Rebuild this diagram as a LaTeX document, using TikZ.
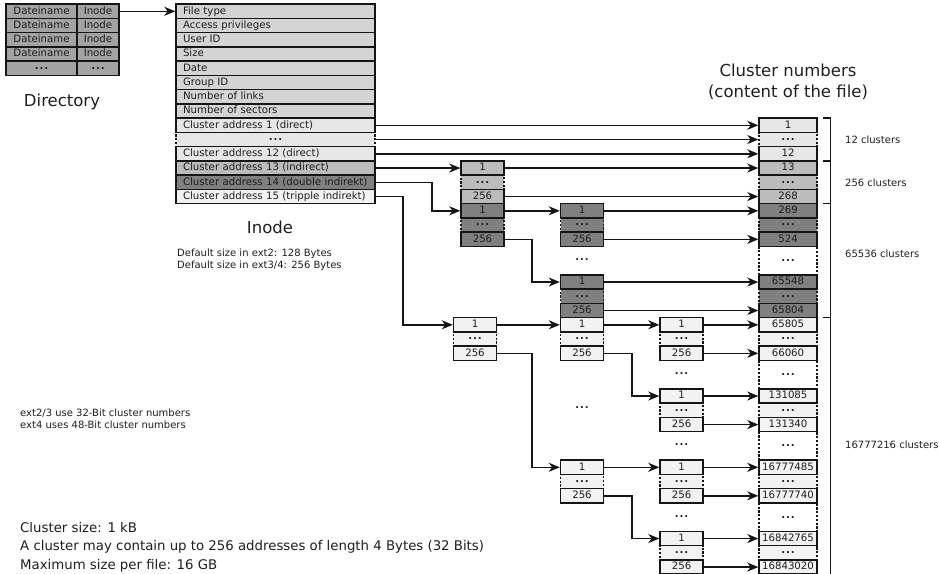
\documentclass[tikz,border=0pt]{standalone}
\usepackage{fontspec}
\setmainfont{DejaVu Sans}
\usetikzlibrary{arrows.meta}
\definecolor{linec}{HTML}{151515}
\definecolor{txtc}{HTML}{1E1E1E}
\definecolor{cDir}{HTML}{A3A3A3}
\definecolor{cHead}{HTML}{D4D4D4}
\definecolor{cL}{HTML}{E6E6E6}
\definecolor{cM}{HTML}{BCBCBC}
\definecolor{cD}{HTML}{808080}
\definecolor{cW}{HTML}{F2F2F2}
\newcommand\fs[2]{\fontsize{#1}{#2}\selectfont}
\newcommand\dts{\raisebox{1.8pt}{\textbf{.\kern0.9pt.\kern0.9pt.}}}
\newcommand\blk[4]{%
  \node[dotbox, fill=#4, minimum width=43pt] (#1b) at (#2,#3+1) {\dts};
  \node[cellbox, fill=#4, minimum width=43pt] (#1a) at (#2,#3) {1};
  \node[cellbox, fill=#4, minimum width=43pt] (#1c) at (#2,#3+2) {256};
}
\begin{document}
\begin{tikzpicture}[x=1pt,y=-1pt,
  cellbox/.style={draw=linec, line width=1.4pt, minimum height=14.25pt, inner sep=0pt,
    font=\fs{10.2}{12}, text=txtc, text height=7.4pt, text depth=2pt},
  dotbox/.style={cellbox, dash pattern=on 2.2pt off 1.6pt},
  inoderow/.style={cellbox, minimum width=199pt, text width=185pt, inner xsep=7pt, align=left},
  conn/.style={draw=linec, line width=1.4pt},
  arr/.style={conn, -{Stealth[length=11pt,width=9pt,inset=3.3pt]}},
  title/.style={font=\fs{16.5}{21}, text=txtc, inner sep=0pt},
  small/.style={font=\fs{10}{11.7}, text=txtc, inner sep=0pt},
  freedots/.style={font=\fs{10}{12}, text=txtc, inner sep=0pt}]
\useasboundingbox (0,0) rectangle (939,573);

\begin{scope}[y=-14.25pt, yshift=-11.3pt]
% directory
\foreach \r in {0,...,3} {
  \node[cellbox, fill=cDir, minimum width=71pt] (dn\r) at (41.5,\r) {Dateiname};
  \node[cellbox, fill=cDir, minimum width=42pt] (di\r) at (98,\r) {Inode};
}
\node[cellbox, fill=cDir, minimum width=71pt] (dn4) at (41.5,4) {\dts};
\node[cellbox, fill=cDir, minimum width=42pt] (di4) at (98,4) {\dts};

% inode table
\node[dotbox, fill=cL, minimum width=199pt] (I9) at (275.5,9) {\dts};
\foreach \r/\t in {0/File type, 1/Access privileges, 2/User ID, 3/Size, 4/Date, 5/Group ID, 6/Number of links, 7/Number of sectors}
  \node[inoderow, fill=cHead] (I\r) at (275.5,\r) {\t};
\node[inoderow, fill=cL] (I8) at (275.5,8) {Cluster address 1 (direct)};
\node[inoderow, fill=cL] (I10) at (275.5,10) {Cluster address 12 (direct)};
\node[inoderow, fill=cM] (I11) at (275.5,11) {Cluster address 13 (indirect)};
\node[inoderow, fill=cD] (I12) at (275.5,12) {Cluster address 14 (double indirekt)};
\node[inoderow, fill=cW] (I13) at (275.5,13) {Cluster address 15 (tripple indirekt)};

% right column: dotted rows and gaps first
\foreach \r/\c in {9/cL,12/cM,15/cD,20/cD,23/cW,28/cW,33/cW,38/cW}
  \node[dotbox, fill=\c, minimum width=58pt] (R\r) at (788,\r) {\dts};
\foreach \r/\n in {17.5/a,25.5/b,30.5/c,35.5/d}
  \node[dotbox, fill=white, minimum width=58pt, minimum height=28.5pt] (gap\n) at (788,\r) {\dts};
\foreach \r/\c/\t in {8/cL/1, 10/cL/12, 11/cM/13, 13/cM/268, 14/cD/269, 16/cD/524, 19/cD/65548, 21/cD/65804, 22/cW/65805, 24/cW/66060, 27/cW/131085, 29/cW/131340, 32/cW/16777485, 34/cW/16777740, 37/cW/16842765, 39/cW/16843020}
  \node[cellbox, fill=\c, minimum width=58pt] (R\r) at (788,\r) {\t};

% address blocks
\blk{A}{482.5}{11}{cM}
\blk{B}{482.5}{14}{cD}
\blk{C}{582}{14}{cD}
\blk{D}{582}{19}{cD}
\blk{E}{475}{22}{cW}
\blk{F}{582}{22}{cW}
\blk{G}{681.5}{22}{cW}
\blk{H}{681.5}{27}{cW}
\blk{P}{582}{32}{cW}
\blk{Q}{681.5}{32}{cW}
\blk{K}{681.5}{37}{cW}

% free dots
\node[freedots] (fd1) at (582,17.5) {\dts};
\node[freedots] (fd2) at (681.5,25.5) {\dts};
\node[freedots] (fd3) at (582,27.85) {\dts};
\node[freedots] (fd4) at (681.5,30.5) {\dts};
\node[freedots] (fd5) at (681.5,35.5) {\dts};

% elbow columns
\coordinate (e1) at (432,0);
\coordinate (e2) at (532,0);
\coordinate (e3) at (403,0);
\coordinate (e4) at (632,0);

% connectors
\draw[arr] (di0.east) -- (I0.west);
\foreach \r in {8,9,10} \draw[arr] (I\r.east) -- (R\r.west);
\draw[arr] (I11.east) -- (Aa.west);
\draw[arr] (Aa.east) -- (R11.west);
\draw[arr] (Ac.east) -- (R13.west);
\draw[arr] (I12.east) -- (I12.east -| e1) |- (Ba.west);
\draw[arr] (Ba.east) -- (Ca.west);
\draw[arr] (Ca.east) -- (R14.west);
\draw[arr] (Cc.east) -- (R16.west);
\draw[arr] (Bc.east) -- (Bc.east -| e2) |- (Da.west);
\draw[arr] (Da.east) -- (R19.west);
\draw[arr] (Dc.east) -- (R21.west);
\draw[arr] (I13.east) -- (I13.east -| e3) |- (Ea.west);
\draw[arr] (Ea.east) -- (Fa.west);
\draw[arr] (Fa.east) -- (Ga.west);
\draw[arr] (Ga.east) -- (R22.west);
\draw[arr] (Gc.east) -- (R24.west);
\draw[arr] (Fc.east) -- (Fc.east -| e4) |- (Ha.west);
\draw[arr] (Ha.east) -- (R27.west);
\draw[arr] (Hc.east) -- (R29.west);
\draw[arr] (Ec.east) -- (Ec.east -| e2) |- (Pa.west);
\draw[arr] (Pa.east) -- (Qa.west);
\draw[arr] (Qa.east) -- (R32.west);
\draw[arr] (Qc.east) -- (R34.west);
\draw[arr] (Pc.east) -- (Pc.east -| e4) |- (Ka.west);
\draw[arr] (Ka.east) -- (R37.west);
\draw[arr] (Kc.east) -- (R39.west);

% brackets
\draw[conn] (823,7.5) -- (830.5,7.5) -- (830.5,39.7);
\foreach \r in {10.5,13.5,21.5} \draw[conn] (823,\r) -- (830.5,\r);
\end{scope}

% labels
\node[title] (dirlbl) at (62,101.5) {Directory};
\node[title] (inlbl) at (270,227) {Inode};
\node[title, align=center] (cnlbl) at (788,81.5) {Cluster numbers\\(content of the file)};
\node[small, anchor=west, align=left] (defsz) at (177,259.5) {Default size in ext2: 128 Bytes\\Default size in ext3/4: 256 Bytes};
\node[small, anchor=west, align=left] (extnote) at (20,419) {ext2/3 use 32-Bit cluster numbers\\ext4 uses 48-Bit cluster numbers};
\node[font=\fs{13.3}{18.5}, text=txtc, inner sep=0pt, anchor=west, align=left] (facts) at (20,547) {Cluster size: 1 kB\\A cluster may contain up to 256 addresses of length 4 Bytes (32 Bits)\\Maximum size per file: 16 GB};
\node[small, anchor=west] (b1) at (845,140) {12 clusters};
\node[small, anchor=west] (b2) at (845,182.5) {256 clusters};
\node[small, anchor=west] (b3) at (845,253.5) {65536 clusters};
\node[small, anchor=west] (b4) at (845,445) {16777216 clusters};
\end{tikzpicture}
\end{document}
